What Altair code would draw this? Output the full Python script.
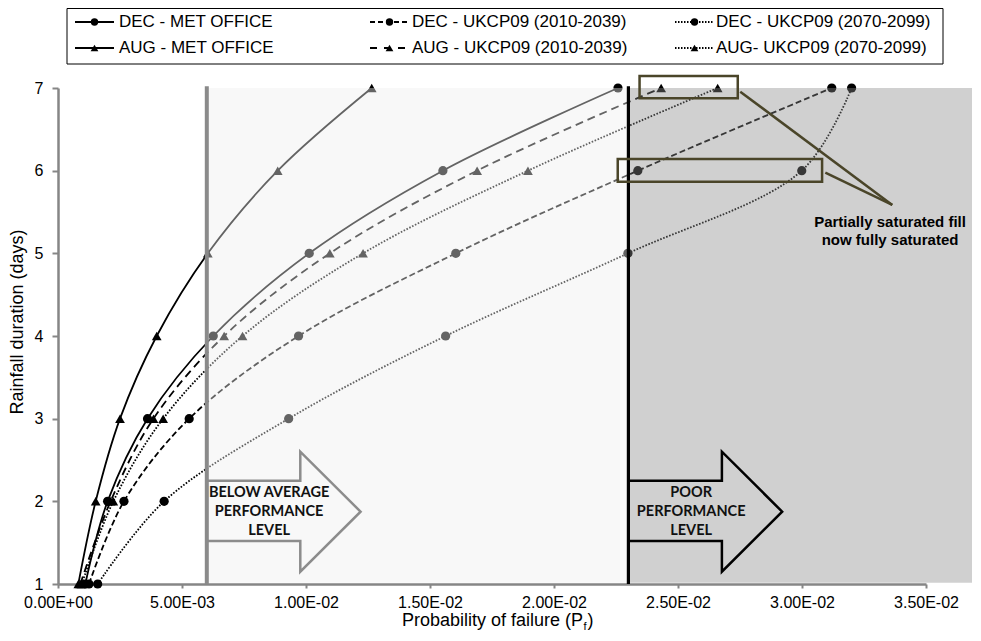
import altair as alt
import pandas as pd

# ---------------- data ----------------
DURATION_DAYS = [1, 2, 3, 4, 5, 6, 7]

SERIES_NAMES = [
    "DEC - MET OFFICE", "DEC - UKCP09 (2010-2039)", "DEC - UKCP09 (2070-2099)",
    "AUG - MET OFFICE", "AUG - UKCP09 (2010-2039)", "AUG- UKCP09 (2070-2099)",
]

DEC_MET = [0.00110, 0.00200, 0.00361, 0.00626, 0.01013, 0.01552, 0.02258]
DEC_2010 = [0.00125, 0.00266, 0.00529, 0.00970, 0.01604, 0.02338, 0.03120]
DEC_2070 = [0.00160, 0.00428, 0.00930, 0.01563, 0.02298, 0.02999, 0.03200]
AUG_MET = [0.00082, 0.00152, 0.00250, 0.00398, 0.00604, 0.00886, 0.01265]
AUG_2010 = [0.00090, 0.00212, 0.00385, 0.00670, 0.01096, 0.01690, 0.02432]
AUG_2070 = [0.00096, 0.00223, 0.00424, 0.00744, 0.01230, 0.01895, 0.02660]

X_TICKS = [0.0, 0.005, 0.010, 0.015, 0.020, 0.025, 0.030, 0.035]
X_TICK_LABELS = ["0.00E+00", "5.00E-03", "1.00E-02", "1.50E-02",
                 "2.00E-02", "2.50E-02", "3.00E-02", "3.50E-02"]
Y_TICKS = [1, 2, 3, 4, 5, 6, 7]

BELOW_AVERAGE_PF = 0.006
POOR_PF = 0.023

BELOW_LABEL = "BELOW AVERAGE\nPERFORMANCE\nLEVEL"
POOR_LABEL = "POOR\nPERFORMANCE\nLEVEL"
CALLOUT_LABEL = "Partially saturated fill\nnow fully saturated"
X_TITLE = "Probability of failure (P"
X_TITLE_SUB = "f"
Y_TITLE = "Rainfall duration (days)"

# ---------------- styles ----------------
SERIES_VALUES = [DEC_MET, DEC_2010, DEC_2070, AUG_MET, AUG_2010, AUG_2070]
SHAPES = ["circle"] * 3 + ["triangle-up"] * 3
DASHES = [None, [6, 3], [1.6, 1.6], None, [8, 5], [1.6, 1.6]]
LEGEND_DASHES = [None, [5, 3], [1.5, 1.5], None, [7, 7], [1.5, 1.5]]
OLIVE = "#4a4529"
FONT = "Liberation Sans"

W, H = 868, 496

xscale = alt.Scale(domain=[0, 0.035], nice=False, zero=False)
yscale = alt.Scale(domain=[1, 7], nice=False, zero=False)

label_expr = "[" + ",".join("'%s'" % s for s in X_TICK_LABELS) + "][round(datum.value / 0.005)]"

xaxis = alt.Axis(values=X_TICKS, labelExpr=label_expr, title=None, grid=False,
                 domainColor="#868686", domainWidth=2.5, tickColor="#868686",
                 tickWidth=2, tickSize=4, labelFont=FONT, labelFontSize=16,
                 labelColor="black", labelPadding=6, labelFlush=False)
yaxis = alt.Axis(values=Y_TICKS, title=None, grid=False, format="d",
                 domainColor="#868686", domainWidth=2.5, tickColor="#868686",
                 tickWidth=2, tickSize=6, labelFont=FONT, labelFontSize=16,
                 labelColor="black", labelPadding=9)


def X(field):
    return alt.X(field, type="quantitative", scale=xscale, axis=xaxis, title=None)


def Y(field):
    return alt.Y(field, type="quantitative", scale=yscale, axis=yaxis, title=None)


layers = []

# ---------------- series ----------------
for name, vals, shape, dash in zip(SERIES_NAMES, SERIES_VALUES, SHAPES, DASHES):
    df = pd.DataFrame({"pf": vals, "days": DURATION_DAYS, "series": name})
    line_kw = dict(interpolate="catmull-rom", color="black", strokeWidth=1.8)
    if dash:
        line_kw["strokeDash"] = dash
    layers.append(alt.Chart(df).mark_line(**line_kw).encode(
        x=X("pf"), y=Y("days"), order=alt.Order("days:Q")))
    layers.append(alt.Chart(df).mark_point(filled=True, shape=shape,
                                            size=85 if shape == "circle" else 95,
                                            color="black", opacity=1).encode(x=X("pf"), y=Y("days")))

# ---------------- performance regions (translucent overlays) ----------------
overlays = pd.DataFrame({
    "pf": [BELOW_AVERAGE_PF, POOR_PF],
    "pf2": [POOR_PF, 0.0369],
    "days": [1.015, 1.015],
    "days2": [7, 7],
    "fill": ["#eeeeee", "#898989"],
    "op": [0.42, 0.40],
})
layers.append(alt.Chart(overlays).mark_rect().encode(
    x=X("pf"), x2="pf2", y=Y("days"), y2="days2",
    fill=alt.Fill("fill:N", scale=None), opacity=alt.Opacity("op:Q", scale=None)))

# ---------------- block arrows ----------------
SHAFT_BOT, SHAFT_TOP = 1.52, 2.25
HEAD_BOT, HEAD_TOP, TIP_Y = 1.149, 2.60, 1.875
HEAD_DX, TIP_DX = 0.00377, 0.0062

arrow_rows = []
for key, x0, col in [("below", BELOW_AVERAGE_PF, "#8c8c8c"), ("poor", POOR_PF, "black")]:
    pts = [(x0, SHAFT_TOP), (x0 + HEAD_DX, SHAFT_TOP), (x0 + HEAD_DX, HEAD_TOP),
           (x0 + TIP_DX, TIP_Y), (x0 + HEAD_DX, HEAD_BOT), (x0 + HEAD_DX, SHAFT_BOT),
           (x0, SHAFT_BOT), (x0, SHAFT_TOP)]
    for i, (px, py) in enumerate(pts):
        arrow_rows.append({"pf": px, "days": py, "ord": i, "arrow": key, "col": col})
arrows = pd.DataFrame(arrow_rows)
layers.append(alt.Chart(arrows).mark_line(strokeWidth=2.5, strokeJoin="miter").encode(
    x=X("pf"), y=Y("days"), order=alt.Order("ord:Q"), detail="arrow:N",
    color=alt.Color("col:N", scale=None)))

# y of the first text line (Vega places multi-line text from its first line)
arrow_text = pd.DataFrame({
    "pf": [0.008513, 0.02553],
    "days": [2.097, 2.097],
    "label": [BELOW_LABEL, POOR_LABEL],
})
layers.append(alt.Chart(arrow_text).mark_text(font="Lato", fontWeight="bold", fontSize=14.5,
                                              lineBreak="\n", lineHeight=19, color="#111111",
                                              align="center", baseline="middle").encode(
    x=X("pf"), y=Y("days"), text="label:N"))

# ---------------- threshold lines ----------------
rules = pd.DataFrame({
    "pf": [BELOW_AVERAGE_PF, POOR_PF],
    "days": [1, 1],
    "days2": [7.02, 7.02],
    "col": ["#8a8a8a", "black"],
    "w": [4, 3.2],
})
layers.append(alt.Chart(rules).mark_rule().encode(
    x=X("pf"), y=Y("days"), y2="days2",
    color=alt.Color("col:N", scale=None), strokeWidth=alt.StrokeWidth("w:Q", scale=None)))

# ---------------- callout ----------------
boxes = pd.DataFrame({
    "pf": [0.02345, 0.02257],
    "pf2": [0.02741, 0.03081],
    "days": [6.875, 5.866],
    "days2": [7.145, 6.141],
})
layers.append(alt.Chart(boxes).mark_rect(fillOpacity=0, stroke=OLIVE, strokeWidth=2.5).encode(
    x=X("pf"), x2="pf2", y=Y("days"), y2="days2"))

TIP = (0.03364, 5.585)
pointers = pd.DataFrame([
    {"pf": 0.02751, "days": 6.955, "seg": "a", "ord": 0},
    {"pf": TIP[0], "days": TIP[1], "seg": "a", "ord": 1},
    {"pf": 0.03094, "days": 5.975, "seg": "b", "ord": 0},
    {"pf": TIP[0], "days": TIP[1], "seg": "b", "ord": 1},
])
layers.append(alt.Chart(pointers).mark_line(color=OLIVE, strokeWidth=2.5).encode(
    x=X("pf"), y=Y("days"), order=alt.Order("ord:Q"), detail="seg:N"))

callout_text = pd.DataFrame({"pf": [0.03355], "days": [5.38], "label": [CALLOUT_LABEL]})
layers.append(alt.Chart(callout_text).mark_text(font=FONT, fontWeight="bold", fontSize=15,
                                                lineBreak="\n", lineHeight=18, color="black",
                                                align="center", baseline="middle").encode(
    x=X("pf"), y=Y("days"), text="label:N"))

# ---------------- legend (drawn in pixel space above the plot) ----------------
one = alt.Data(values=[{"k": 1}])
layers.append(alt.Chart(one).mark_rect(fillOpacity=0, stroke="black", strokeWidth=1).encode(
    x=alt.value(9), x2=alt.value(885), y=alt.value(-79.5), y2=alt.value(-24)))

COL_LINE0 = [17, 312, 617]
COL_TEXT = [61, 354, 658]
ROW_Y = [-66, -40]
for i, (name, shape, dash) in enumerate(zip(SERIES_NAMES, SHAPES, LEGEND_DASHES)):
    r, c = i // 3, i % 3
    rule_kw = dict(color="black", strokeWidth=2)
    if dash:
        rule_kw["strokeDash"] = dash
    layers.append(alt.Chart(one).mark_rule(**rule_kw).encode(
        x=alt.value(COL_LINE0[c]), x2=alt.value(COL_LINE0[c] + 39), y=alt.value(ROW_Y[r])))
    layers.append(alt.Chart(one).mark_point(filled=True, shape=shape,
                                            size=55 if shape == "circle" else 60,
                                            color="black", opacity=1).encode(
        x=alt.value(COL_LINE0[c] + 19.5), y=alt.value(ROW_Y[r])))
    layers.append(alt.Chart(one).mark_text(text=name, font=FONT, fontSize=17, color="black",
                                           align="left", baseline="middle").encode(
        x=alt.value(COL_TEXT[c]), y=alt.value(ROW_Y[r])))

# ---------------- axis titles ----------------
layers.append(alt.Chart(one).mark_text(text=X_TITLE, font=FONT, fontSize=18, color="black",
                                       align="left", baseline="alphabetic").encode(
    x=alt.value(344), y=alt.value(538)))
layers.append(alt.Chart(one).mark_text(text=X_TITLE_SUB, font=FONT, fontSize=11, color="black",
                                       align="left", baseline="alphabetic").encode(
    x=alt.value(525.5), y=alt.value(542)))
layers.append(alt.Chart(one).mark_text(text=")", font=FONT, fontSize=18, color="black",
                                       align="left", baseline="alphabetic").encode(
    x=alt.value(529.5), y=alt.value(538)))
layers.append(alt.Chart(one).mark_text(text=Y_TITLE, font=FONT, fontSize=18, color="black",
                                       align="center", baseline="middle", angle=270).encode(
    x=alt.value(-40), y=alt.value(234)))

chart = alt.layer(*layers).properties(
    width=W, height=H,
    padding={"left": 50, "top": 80, "right": 46, "bottom": 49},
    autosize=alt.AutoSizeParams(type="none"),
    background="white",
).configure_view(stroke=None)

chart.save("out.html", embed_options={"renderer": "svg", "actions": False})
